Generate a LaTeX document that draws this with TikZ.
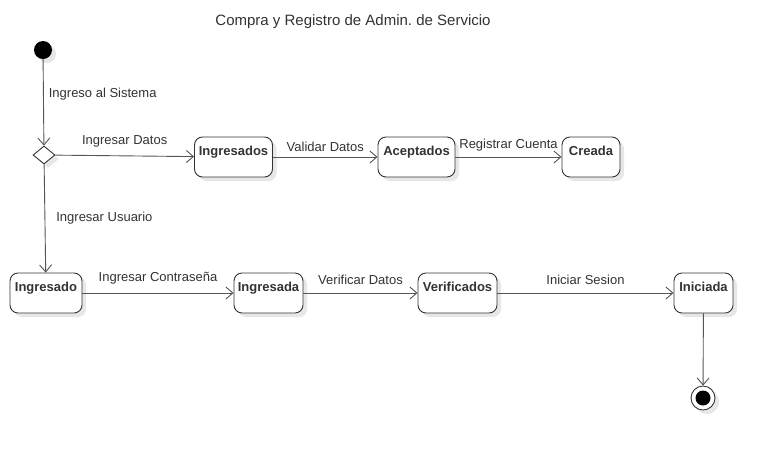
\documentclass[tikz,border=0pt]{standalone}
\usepackage{fontspec}
\setmainfont{Liberation Sans}
\usetikzlibrary{arrows.meta,shapes.geometric,shadows}
\definecolor{linec}{HTML}{555555}
\definecolor{txtc}{HTML}{333333}
\definecolor{shc}{HTML}{D8D8D8}
\tikzset{
  every node/.style={font=\fontsize{13}{15}\selectfont, text=txtc},
  shd/.style={drop shadow={fill=shc, opacity=0.6, shadow xshift=4pt, shadow yshift=-4pt}},
  statebox/.style={draw=txtc, line width=0.9pt, rounded corners=8pt, fill=white, shd,
    minimum height=40pt, inner ysep=2pt, inner xsep=2pt, text height=16pt, text depth=20pt,
    font=\fontsize{13}{15}\selectfont\bfseries},
  flow/.style={draw=linec, line width=0.9pt, -{Straight Barb[length=7pt,width=12pt]}},
  lbl/.style={inner sep=1pt},
}
\begin{document}
\begin{tikzpicture}[x=1pt,y=-1pt]
\useasboundingbox[fill=white] (0,0) rectangle (773,451);
\node[font=\fontsize{15}{17}\selectfont] (title) at (353,22) {Compra y Registro de Admin.\ de Servicio};
% start
\node[circle, fill=black, minimum size=18pt, inner sep=0pt, shd] (start) at (43,50) {};
\node[diamond, draw=txtc, fill=white, line width=0.9pt, minimum width=22pt, minimum height=18pt, inner sep=0pt, shd] (dia) at (44,155) {};
% row 1
\node[statebox, minimum width=78pt] (ingresados) at (233.5,157) {Ingresados};
\node[statebox, minimum width=77pt] (aceptados) at (416.5,157) {Aceptados};
\node[statebox, minimum width=58pt] (creada) at (591,157) {Creada};
% row 2
\node[statebox, minimum width=72pt] (ingresado) at (46,293) {Ingresado};
\node[statebox, minimum width=69pt] (ingresada) at (268.5,293) {Ingresada};
\node[statebox, minimum width=79pt] (verificados) at (457.5,293) {Verificados};
\node[statebox, minimum width=59pt] (iniciada) at (703.5,293) {Iniciada};
% end
\node[circle, draw=txtc, fill=white, line width=0.9pt, minimum size=24pt, inner sep=0pt, shd] (fin) at (703,398) {};
\node[circle, fill=black, minimum size=15pt, inner sep=0pt] (finin) at (fin) {};
% connectors
\draw[flow] (start) -- node[lbl, pos=0.4, right, xshift=4pt] {Ingreso al Sistema} (dia);
\draw[flow] (dia) -- node[lbl, above, yshift=7pt] {Ingresar Datos} (ingresados);
\draw[flow] (ingresados) -- node[lbl, above, yshift=4pt] {Validar Datos} (aceptados);
\draw[flow] (aceptados) -- node[lbl, above, yshift=4pt] {Registrar Cuenta} (creada);
\draw[flow] (dia) -- node[lbl, pos=0.5, right, xshift=10pt] {Ingresar Usuario} (ingresado);
\draw[flow] (ingresado) -- node[lbl, above, yshift=7pt] {Ingresar Contraseña} (ingresada);
\draw[flow] (ingresada) -- node[lbl, above, yshift=7pt] {Verificar Datos} (verificados);
\draw[flow] (verificados) -- node[lbl, above, yshift=7pt] {Iniciar Sesion} (iniciada);
\draw[flow] (iniciada) -- (fin);
\end{tikzpicture}
\end{document}
